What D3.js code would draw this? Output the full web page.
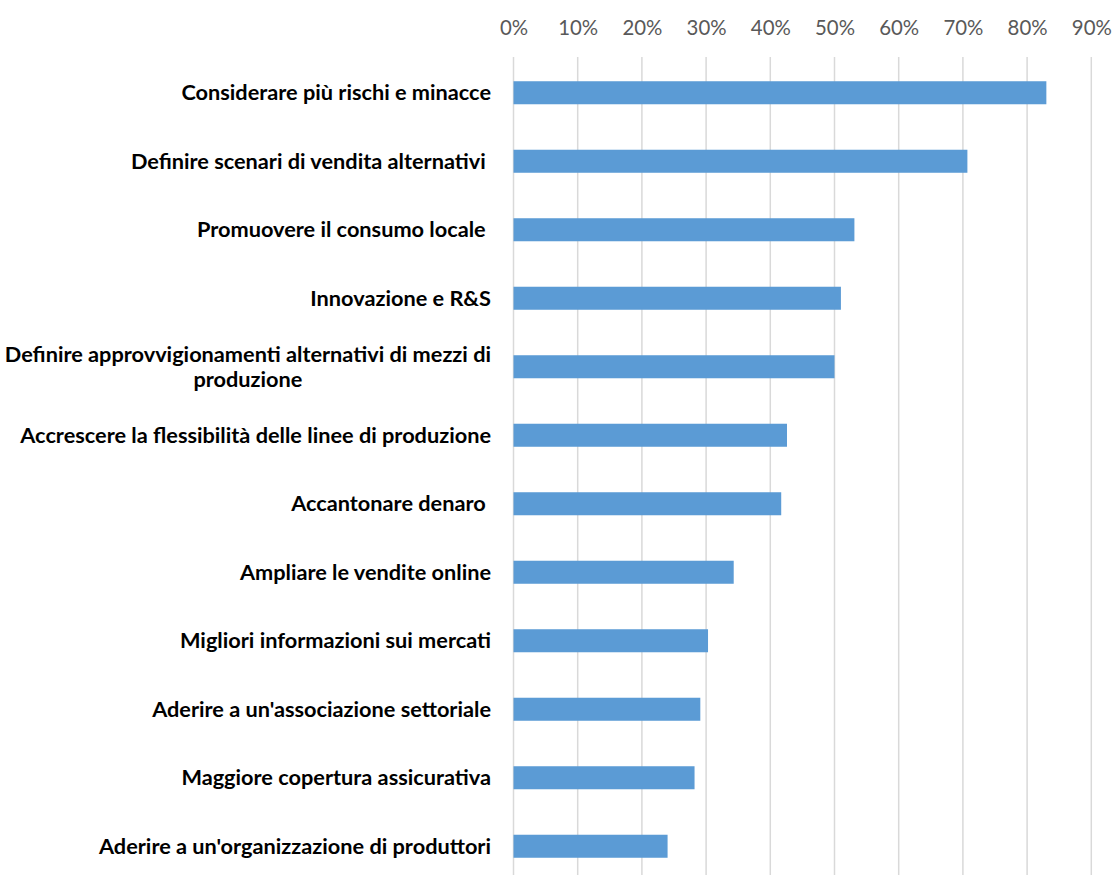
<!DOCTYPE html>
<html>
<head>
<meta charset="utf-8">
<script src="https://cdn.jsdelivr.net/npm/d3@7"></script>
<style>
  html, body { margin: 0; padding: 0; background: #ffffff; }
  svg { display: block; }
  text { white-space: pre; }
</style>
</head>
<body>
<script>
// Azioni per ridurre i rischi futuri: quota di rispondenti
const categories = [
  "Considerare più rischi e minacce",
  "Definire scenari di vendita alternativi ",
  "Promuovere il consumo locale ",
  "Innovazione e R&S",
  "Definire approvvigionamenti alternativi di mezzi di produzione",
  "Accrescere la flessibilità delle linee di produzione",
  "Accantonare denaro ",
  "Ampliare le vendite online",
  "Migliori informazioni sui mercati",
  "Aderire a un'associazione settoriale",
  "Maggiore copertura assicurativa",
  "Aderire a un'organizzazione di produttori"
];
const values = [0.830, 0.707, 0.531, 0.510, 0.500, 0.426, 0.417, 0.343, 0.303, 0.291, 0.282, 0.240];
const tickValues = [0, 0.1, 0.2, 0.3, 0.4, 0.5, 0.6, 0.7, 0.8, 0.9];

const W = 1115, H = 875;
const margin = { top: 58.5, left: 513.5, right: 23.7, bottom: -5.5 };
const labelRight = 491;
const fontFamily = "Lato, 'Open Sans', 'DejaVu Sans', sans-serif";

const svg = d3.select("body").append("svg")
  .attr("width", W).attr("height", H)
  .style("font-family", fontFamily);

const x = d3.scaleLinear()
  .domain([0, 0.9])
  .range([margin.left, W - margin.right]);

const y = d3.scaleBand()
  .domain(categories)
  .range([margin.top, H - margin.bottom])
  .paddingInner(0.664)
  .paddingOuter(0.332);

// Size the category font so a few reference labels take their intended widths
const sizingLabels = [
  "Considerare più rischi e minacce",
  "Accrescere la flessibilità delle linee di produzione",
  "Aderire a un'organizzazione di produttori"
];
const probe = svg.append("text").attr("font-weight", 700).attr("font-size", 20);
const probeTotal = d3.sum(sizingLabels, s => { probe.text(s); return probe.node().getComputedTextLength(); });
probe.remove();
const labelSize = 20 * 1173 / probeTotal;

const tprobe = svg.append("text").attr("font-size", 20).text("90%");
const tickSize = 20 * 40 / tprobe.node().getComputedTextLength();
tprobe.remove();

// Vertical gridlines
svg.append("g").selectAll("line")
  .data(tickValues)
  .join("line")
  .attr("x1", d => x(d)).attr("x2", d => x(d))
  .attr("y1", 57).attr("y2", H)
  .attr("stroke", "#d9d9d9")
  .attr("stroke-width", 1.5);

// Percentage axis on top
const xAxis = d3.axisTop(x)
  .tickValues(tickValues)
  .tickFormat(d3.format(".0%"))
  .tickSize(0)
  .tickPadding(0);

const ax = svg.append("g")
  .attr("transform", "translate(0,28)")
  .call(xAxis);
ax.select(".domain").remove();
ax.selectAll("text")
  .attr("dy", "0.35em")
  .attr("fill", "#595959")
  .attr("font-size", tickSize)
  .attr("font-family", fontFamily);

// Bars
svg.append("g").selectAll("rect")
  .data(categories.map((c, i) => ({ c, v: values[i] })))
  .join("rect")
  .attr("x", x(0))
  .attr("y", d => y(d.c))
  .attr("width", d => x(d.v) - x(0))
  .attr("height", y.bandwidth())
  .attr("fill", "#5b9bd5");

// Category labels, wrapped when wider than the label area
const maxW = 490;
const labels = svg.append("g")
  .attr("font-size", labelSize)
  .attr("font-weight", 700)
  .attr("fill", "#000000");

categories.forEach(c => {
  const cy = y(c) + y.bandwidth() / 2;
  const t = labels.append("text").text(c);
  const w = t.node().getComputedTextLength();
  if (w <= maxW) {
    t.attr("x", labelRight).attr("y", cy)
      .attr("dy", "0.35em").attr("text-anchor", "end");
    return;
  }
  t.remove();
  const words = c.split(" ");
  const lines = [];
  let cur = [];
  const m = labels.append("text");
  words.forEach(wd => {
    const trial = cur.concat(wd).join(" ");
    m.text(trial);
    if (m.node().getComputedTextLength() > maxW && cur.length) {
      lines.push(cur.join(" "));
      cur = [wd];
    } else {
      cur.push(wd);
    }
  });
  if (cur.length) lines.push(cur.join(" "));
  const widths = lines.map(l => { m.text(l); return m.node().getComputedTextLength(); });
  m.remove();
  const blockW = d3.max(widths);
  const cx = labelRight - blockW / 2;
  const lh = 24.5;
  lines.forEach((l, i) => {
    labels.append("text")
      .attr("x", cx)
      .attr("y", cy + (i - (lines.length - 1) / 2) * lh)
      .attr("dy", "0.35em")
      .attr("text-anchor", "middle")
      .text(l);
  });
});
</script>
</body>
</html>
